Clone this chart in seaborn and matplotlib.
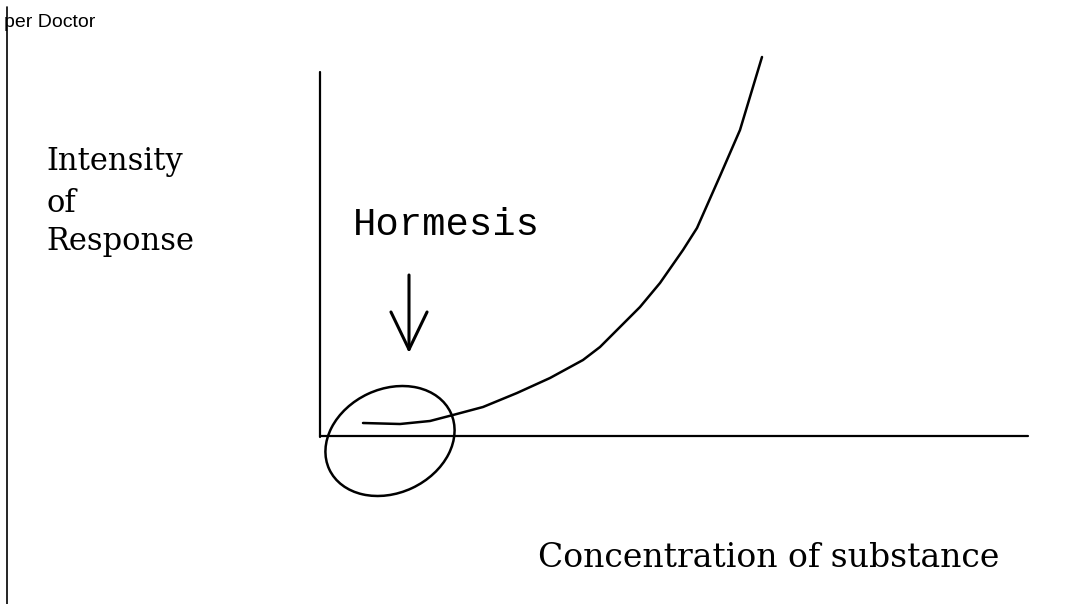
import numpy as np
import matplotlib
matplotlib.use("Agg")
import matplotlib.pyplot as plt
from matplotlib.patches import Ellipse
import pandas as pd
import seaborn as sns

sns.set_style("white")

# Data (diagram read in picture units: x to the right, y downward)
curve_x = [363, 400, 430, 453, 483, 517, 550, 583, 600, 617, 640, 660, 683, 697, 720, 740, 762]
curve_y = [423, 424, 421, 415, 407, 393, 378, 360, 347, 330, 307, 283, 250, 228, 176, 130, 57]
ylabel_lines = ["Intensity", "of", "Response"]
xlabel_text = "Concentration of substance"
marker_text = "Hormesis"
corner_text = "per Doctor"

df = pd.DataFrame({"x": curve_x, "y": curve_y})

fig = plt.figure(figsize=(10.82, 6.04), dpi=100)
ax = fig.add_axes([0, 0, 1, 1])
ax.set_xlim(0, 1082)
ax.set_ylim(604, 0)
ax.axis("off")

# axes of the sketch
ax.plot([320, 320], [72, 437], color="black", lw=1.6)
ax.plot([320, 1028], [436, 436], color="black", lw=1.6)

# response curve
sns.lineplot(data=df, x="x", y="y", color="black", lw=1.8, sort=False, ax=ax,
             solid_joinstyle="round")

# circle round the low-dose region
ax.add_patch(Ellipse((390, 441), 134, 104, angle=-25, fill=False,
                     edgecolor="black", lw=1.8))

# arrow pointing at hormesis
ax.annotate("", xy=(409, 353), xytext=(409, 275),
            arrowprops=dict(arrowstyle="->, head_length=1.35, head_width=0.65",
                            color="black", lw=2.2, mutation_scale=20,
                            shrinkA=0, shrinkB=0))

serif = ["DejaVu Serif"]
for label, yb in zip(ylabel_lines, [170, 212, 250]):
    ax.text(46, yb, label, fontsize=22, family=serif, va="baseline", ha="left",
            color="black")
ax.text(538, 567, xlabel_text, fontsize=23.8, family=serif, va="baseline", ha="left",
        color="black")
ax.text(353, 235, marker_text, fontsize=28, family=["Liberation Mono"],
        va="baseline", ha="left", color="black")

# page furniture
ax.text(95, 27, corner_text, fontsize=14, family=["Liberation Sans"],
        va="baseline", ha="right", color="black")
ax.plot([7, 7], [7, 604], color="black", lw=1.2)

plt.savefig("out.png", dpi=100)
